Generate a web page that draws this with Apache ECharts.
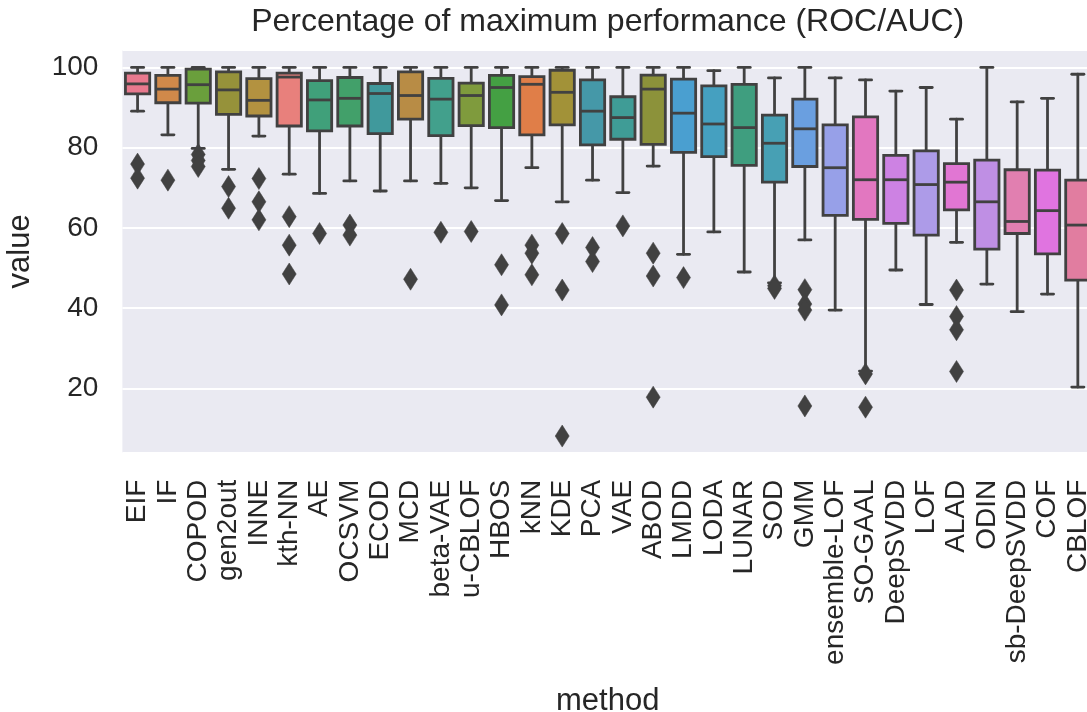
<!DOCTYPE html>
<html>
<head>
<meta charset="utf-8">
<script src="https://cdn.jsdelivr.net/npm/echarts@6/dist/echarts.min.js"></script>
<style>
html,body{margin:0;padding:0;background:#fff;}
#chart{width:1087px;height:712px;}
</style>
</head>
<body>
<div id="chart"></div>
<script>
// ---- data ----
const methods = ['EIF','IF','COPOD','gen2out','INNE','kth-NN','AE','OCSVM','ECOD','MCD','beta-VAE','u-CBLOF','HBOS','kNN','KDE','PCA','VAE','ABOD','LMDD','LODA','LUNAR','SOD','GMM','ensemble-LOF','SO-GAAL','DeepSVDD','LOF','ALAD','ODIN','sb-DeepSVDD','COF','CBLOF'];
const whiskerLow  = [89.1, 83.2, 79.8, 74.6, 82.9, 73.4, 68.6, 71.7, 69.2, 71.7, 71.1, 70.0, 66.8, 75.0, 66.5, 71.9, 68.8, 75.4, 53.4, 59.0, 49.0, 46.3, 57.0, 39.5, 24.3, 49.5, 40.9, 56.4, 46.0, 39.1, 43.5, 20.3];
const q1          = [93.4, 91.2, 91.1, 88.3, 87.9, 85.4, 84.2, 85.4, 83.5, 87.1, 83.0, 85.5, 85.0, 83.2, 85.7, 80.7, 82.1, 80.8, 78.85, 77.75, 75.6, 71.4, 75.3, 63.1, 62.1, 61.1, 58.2, 64.5, 54.7, 58.6, 53.5, 47.0];
const median      = [95.9, 94.6, 95.7, 94.4, 91.8, 97.6, 91.9, 92.3, 93.5, 93.0, 92.1, 93.0, 95.0, 95.8, 93.8, 89.1, 87.5, 94.6, 88.6, 85.9, 85.0, 81.1, 84.7, 75.0, 72.0, 72.0, 70.8, 71.4, 66.5, 61.6, 64.3, 60.7];
const q3          = [98.6, 98.0, 99.6, 98.9, 97.2, 98.6, 96.7, 97.5, 96.0, 98.9, 97.3, 96.1, 98.0, 97.7, 99.3, 96.9, 92.7, 98.1, 97.1, 95.4, 95.8, 88.1, 92.1, 85.7, 87.7, 78.1, 79.2, 76.0, 76.9, 74.5, 74.4, 71.9];
const whiskerHigh = [100, 100, 100, 100, 100, 100, 100, 100, 100, 100, 100, 100, 100, 100, 100, 100, 100, 100, 100, 99.2, 100, 97.4, 100, 97.4, 96.9, 94.1, 95.0, 87.1, 100, 91.4, 92.3, 98.3];
const outliers = [
  [75.9, 72.4],          // EIF
  [71.9],                // IF
  [78.3, 76.8, 75.3],    // COPOD
  [70.3, 64.9],          // gen2out
  [72.3, 66.5, 62.0],    // INNE
  [62.8, 55.7, 48.5],    // kth-NN
  [58.6],                // AE
  [60.7, 58.2],          // OCSVM
  [],                    // ECOD
  [47.2],                // MCD
  [58.9],                // beta-VAE
  [59.1],                // u-CBLOF
  [50.8, 40.8],          // HBOS
  [55.7, 53.7, 48.3],    // kNN
  [58.6, 44.5, 8.1],     // KDE
  [55.1, 51.6],          // PCA
  [60.5],                // VAE
  [53.7, 48.0, 17.8],    // ABOD
  [47.6],                // LMDD
  [],                    // LODA
  [],                    // LUNAR
  [45.6, 44.9],          // SOD
  [44.6, 41.0, 39.5, 15.6], // GMM
  [],                    // ensemble-LOF
  [23.6, 15.3],          // SO-GAAL
  [],                    // DeepSVDD
  [],                    // LOF
  [44.5, 37.9, 34.6, 24.2], // ALAD
  [],                    // ODIN
  [],                    // sb-DeepSVDD
  [],                    // COF
  []                     // CBLOF
];
const yTicks = [20, 40, 60, 80, 100];

// ---- styling ----
const palette = ['#e8798e','#d0894a','#6a9f3c','#96923a','#b39240','#e8807c','#40a07a','#42a06a','#40999c','#b88c45','#42a08c','#7f9b3d','#44a043','#e07e48','#a29238','#4598a8','#3f9c96','#8c923a','#4a9fd0','#45a0c0','#3f9e7f','#47a0b4','#6a9fe0','#97a0e8','#e277c0','#cd82e3','#ad9be8','#e176d3','#bf8fe4','#e17fb0','#e074e0','#e17da0'];
const GRAY = '#414141';
const LW = 2.8;
const FONT = "'Liberation Sans', Arial, Helvetica, sans-serif";
const TEXT = '#262626';

const boxData = methods.map((m, i) => [i, whiskerLow[i], q1[i], median[i], q3[i], whiskerHigh[i]]);
const flierData = [];
outliers.forEach((arr, i) => arr.forEach(v => flierData.push([i, v])));

const chart = echarts.init(document.getElementById('chart'), null, {renderer: 'canvas'});

function renderBox(params, api) {
  const i = api.value(0);
  const pLo = api.coord([i, api.value(1)]);
  const pQ1 = api.coord([i, api.value(2)]);
  const pMed = api.coord([i, api.value(3)]);
  const pQ3 = api.coord([i, api.value(4)]);
  const pHi = api.coord([i, api.value(5)]);
  const band = api.size([1, 0])[0];
  const bw = band * 0.8;
  const cw = bw * 0.5;
  const x = pMed[0];
  const lineStyle = {stroke: GRAY, lineWidth: LW, lineCap: 'round'};
  return {
    type: 'group',
    children: [
      {type: 'line', shape: {x1: x, y1: pQ1[1], x2: x, y2: pLo[1]}, style: lineStyle},
      {type: 'line', shape: {x1: x, y1: pQ3[1], x2: x, y2: pHi[1]}, style: lineStyle},
      {type: 'line', shape: {x1: x - cw / 2, y1: pLo[1], x2: x + cw / 2, y2: pLo[1]}, style: lineStyle},
      {type: 'line', shape: {x1: x - cw / 2, y1: pHi[1], x2: x + cw / 2, y2: pHi[1]}, style: lineStyle},
      {type: 'rect', shape: {x: x - bw / 2, y: pQ3[1], width: bw, height: pQ1[1] - pQ3[1]},
       style: {fill: palette[i % palette.length], stroke: GRAY, lineWidth: LW, lineJoin: 'miter'}},
      {type: 'line', shape: {x1: x - bw / 2, y1: pMed[1], x2: x + bw / 2, y2: pMed[1]}, style: {stroke: GRAY, lineWidth: LW}}
    ]
  };
}

const option = {
  animation: false,
  backgroundColor: '#ffffff',
  textStyle: {fontFamily: FONT},
  title: {
    text: 'Percentage of maximum performance (ROC/AUC)',
    left: 607.7,
    top: 6,
    textAlign: 'center',
    padding: 0,
    textStyle: {fontFamily: FONT, fontSize: 32, fontWeight: 'normal', color: TEXT}
  },
  grid: {
    left: 122.4,
    top: 50,
    width: 970.6,
    height: 402.7,
    show: true,
    backgroundColor: '#EAEAF2',
    borderWidth: 0,
    containLabel: false,
    outerBoundsMode: 'none'
  },
  xAxis: {
    type: 'category',
    data: methods,
    boundaryGap: true,
    axisLine: {show: false},
    axisTick: {show: false},
    splitLine: {show: false},
    axisLabel: {
      rotate: 90,
      interval: 0,
      margin: 27,
      fontSize: 28,
      fontFamily: FONT,
      color: TEXT
    },
    name: 'method',
    nameLocation: 'middle',
    nameGap: 233,
    nameTextStyle: {fontSize: 31, fontFamily: FONT, color: TEXT}
  },
  yAxis: {
    type: 'value',
    min: 3.95,
    max: 104.35,
    splitNumber: 5,
    axisLine: {show: false},
    axisTick: {show: false},
    splitLine: {show: true, lineStyle: {color: '#ffffff', width: 2}},
    axisLabel: {
      margin: 24,
      fontSize: 28,
      fontFamily: FONT,
      color: TEXT,
      showMinLabel: false,
      showMaxLabel: false,
      formatter: v => (yTicks.indexOf(v) >= 0 ? String(v) : '')
    },
    name: 'value',
    nameLocation: 'middle',
    nameGap: 86,
    nameRotate: 90,
    nameTextStyle: {fontSize: 31, fontFamily: FONT, color: TEXT}
  },
  series: [
    {
      type: 'custom',
      renderItem: renderBox,
      data: boxData,
      encode: {x: 0, y: [1, 2, 3, 4, 5]},
      clip: false,
      z: 2
    },
    {
      type: 'scatter',
      data: flierData,
      symbol: 'diamond',
      symbolSize: [14, 22],
      itemStyle: {color: GRAY, borderColor: GRAY, borderWidth: 0.5, opacity: 1},
      z: 3
    }
  ]
};
chart.setOption(option);
</script>
</body>
</html>
